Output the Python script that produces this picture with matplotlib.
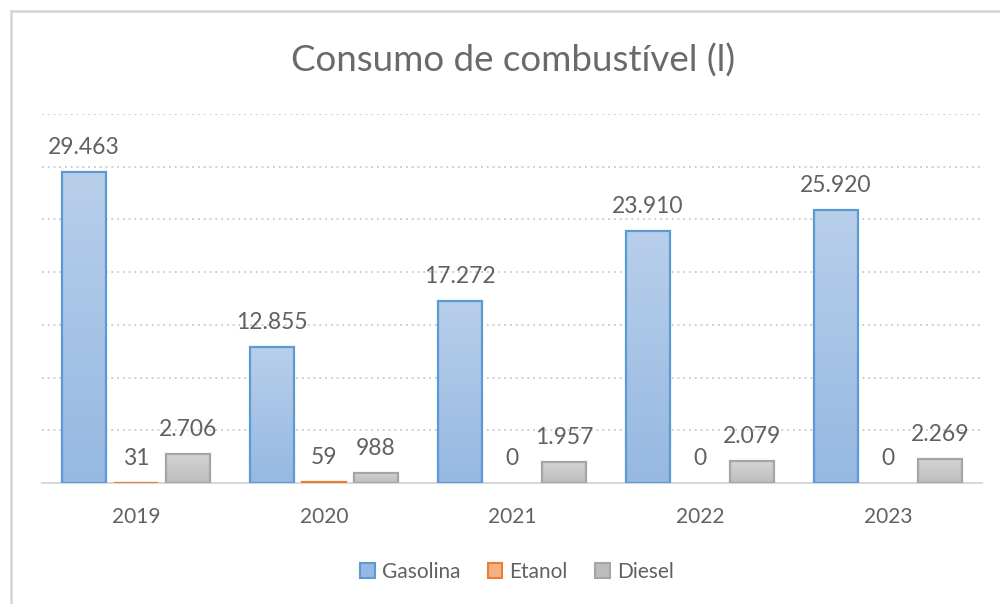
import matplotlib
matplotlib.use("Agg")
import matplotlib.pyplot as plt
import numpy as np
from matplotlib.patches import Patch
from matplotlib.lines import Line2D
from matplotlib.colors import LinearSegmentedColormap

plt.rcParams['font.family'] = ['Lato', 'DejaVu Sans']

years = ["2019", "2020", "2021", "2022", "2023"]
series_names = ["Gasolina", "Etanol", "Diesel"]
gasolina = [29463, 12855, 17272, 23910, 25920]
etanol = [31, 59, 0, 0, 0]
diesel = [2706, 988, 1957, 2079, 2269]
title = "Consumo de combustível (l)"

edge_colors = ["#5b9bd5", "#ed7d31", "#a5a5a5"]
grad_top = ["#b8cfea", "#f8cbad", "#d4d4d4"]
grad_bot = ["#96b8e2", "#f4b183", "#bdbdbd"]
text_color = "#616161"

def fmt(v):
    return f"{v:,}".replace(",", ".")

fig = plt.figure(figsize=(10, 6.04), dpi=100)
ax = fig.add_axes([0.042, 0.2003, 0.94, 0.611])

x = np.arange(len(years))
width = 0.234
offsets = [-0.277, 0.0, 0.277]
data = [gasolina, etanol, diesel]

ymax = 35000
for i, (vals, off) in enumerate(zip(data, offsets)):
    lws = [1.6 if v > 0 else 0 for v in vals]
    bars = ax.bar(x + off, vals, width, facecolor="none", edgecolor=edge_colors[i],
                  linewidth=lws, zorder=3)
    cmap = LinearSegmentedColormap.from_list(f"g{i}", [grad_bot[i], grad_top[i]])
    grad = np.linspace(0, 1, 256).reshape(-1, 1)
    for b, v in zip(bars, vals):
        if v > 0:
            x0, y0 = b.get_x(), b.get_y()
            im = ax.imshow(grad, cmap=cmap, origin="lower", aspect="auto",
                           extent=(x0, x0 + b.get_width(), y0, y0 + max(b.get_height(), 300)),
                           zorder=2, interpolation="bicubic")
            im.set_clip_path(b)
        ax.annotate(fmt(v), (b.get_x() + b.get_width() / 2, v),
                    xytext=(0, 13), textcoords="offset points",
                    ha="center", va="baseline", fontsize=16.5, color=text_color, zorder=5)

ax.set_xlim(-0.5, len(years) - 0.5)
ax.set_ylim(0, ymax)
ax.set_yticks(np.arange(5000, ymax + 1, 5000))
ax.yaxis.grid(True, linestyle=(0, (1, 2.2)), color="#c8c8c8", linewidth=1.3, zorder=0)
ax.set_axisbelow(True)
ax.tick_params(axis="y", left=False, labelleft=False)
ax.set_xticks(x)
ax.set_xticklabels(years, fontsize=15, color=text_color)
ax.tick_params(axis="x", length=0, pad=17)
for s in ["top", "right", "left"]:
    ax.spines[s].set_visible(False)
ax.spines["bottom"].set_color("#d9d9d9")
ax.spines["bottom"].set_linewidth(1.5)
ax.spines["bottom"].set_zorder(2.5)

fig.text(0.513, 0.9, title, ha="center", va="center", fontsize=26.5,
         color="#6a6a6a", fontweight="normal")

handles = [Patch(facecolor=grad_bot[i], edgecolor=edge_colors[i], linewidth=1.5)
           for i in range(3)]
leg = fig.legend(handles, series_names, loc="center", bbox_to_anchor=(0.517, 0.053),
                 ncol=3, frameon=False, fontsize=15, handlelength=0.7, handleheight=0.7,
                 handletextpad=0.35, columnspacing=1.3, labelcolor=text_color)

# chart frame (partially visible)
fig.add_artist(Line2D([0.011, 0.011], [0.0, 1 - 0.018], transform=fig.transFigure,
                      color="#d4d4d4", linewidth=1.8))
fig.add_artist(Line2D([0.011, 1.0], [1 - 0.018, 1 - 0.018], transform=fig.transFigure,
                      color="#d4d4d4", linewidth=1.8))

fig.savefig("out.png", dpi=100, facecolor="white")
